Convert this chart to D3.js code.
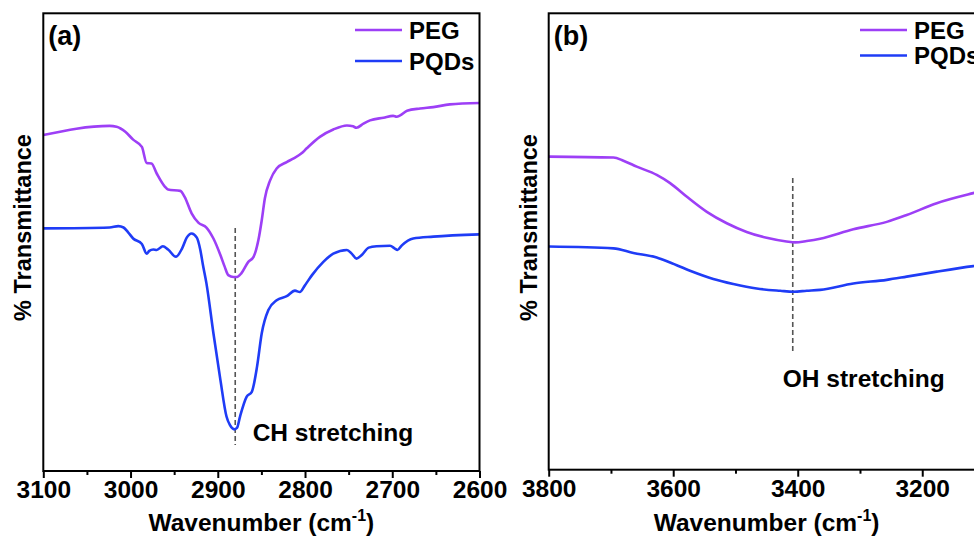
<!DOCTYPE html>
<html>
<head>
<meta charset="utf-8">
<script src="https://cdn.jsdelivr.net/npm/d3@7"></script>
<style>
  body { margin: 0; background: #fff; }
  text { font-family: "Liberation Sans", Arial, sans-serif; font-weight: bold; fill: #000; }
</style>
</head>
<body>
<div id="chart"></div>
<script>
// FTIR spectra, [wavenumber, transmittance (a.u.)]
// panel (a): CH stretching region
const pegCH = [
  [3100, 73.4], [3024, 75.4], [3016, 75.2], [3006, 74.1], [2997, 72.4], [2987, 70.8],
  [2981.5, 67.3], [2976, 67.2], [2970, 65.0], [2960.5, 62.1], [2957, 61.5], [2943, 61.2],
  [2938, 59.9], [2930, 56.3], [2922, 54.2], [2913, 53.2], [2905, 50.8], [2897, 47.2],
  [2892, 44.6], [2888, 42.8], [2882, 42.4], [2878, 42.4], [2873, 43.2], [2865, 45.7],
  [2859, 46.8], [2853.5, 50.4], [2849.6, 54.8], [2846, 59.6], [2840, 63.5], [2832.5, 66.1],
  [2821, 67.5], [2813, 68.3], [2804, 69.4], [2798, 70.5], [2783, 73.0], [2767.6, 74.6],
  [2752, 75.5], [2745, 75.3], [2741, 75.0], [2733, 75.9], [2725.5, 76.6], [2710, 77.2],
  [2699, 77.6], [2695, 77.4], [2691, 77.7], [2683, 78.7], [2668, 79.2], [2653, 79.5],
  [2634, 80.1], [2600, 80.4]
];
const pqdCH = [
  [3100, 53.0], [3024, 53.2], [3014, 53.5], [3008, 53.2], [3003, 52.2], [2997, 50.8],
  [2987, 49.6], [2981.5, 47.5], [2978.5, 48.1], [2974, 48.4], [2970, 48.3], [2963, 49.1],
  [2957, 48.4], [2948, 46.8], [2941, 48.6], [2935.6, 51.0], [2930, 51.9], [2924, 51.0],
  [2920, 48.3], [2917, 45.0], [2913, 41.0], [2905, 30.1], [2897, 19.9], [2890, 11.9],
  [2886, 10.0], [2881, 9.1], [2878, 9.4], [2874.5, 11.9], [2867, 16.2], [2861, 17.3],
  [2855, 22.8], [2849.6, 30.1], [2842, 35.2], [2832.5, 37.3], [2821, 38.2], [2811.5, 39.4],
  [2806, 39.1], [2800, 40.6], [2792, 42.8], [2779, 45.7], [2767.6, 47.5], [2752, 48.3],
  [2746.5, 47.5], [2741, 46.4], [2735, 47.2], [2727, 48.8], [2718, 49.1], [2702.6, 49.2],
  [2697, 48.6], [2694, 48.3], [2689, 49.3], [2676, 50.8], [2653, 51.2], [2600, 51.7]
];
// panel (b): OH stretching region
const pegOH = [
  [3800, 68.6], [3696, 68.4], [3680, 67.7], [3658.6, 66.4], [3626.5, 64.6], [3605, 62.8],
  [3578, 59.8], [3546, 56.5], [3514, 54.0], [3482, 52.1], [3450, 50.8], [3418, 50.0],
  [3404, 49.8], [3385.5, 50.1], [3364, 50.6], [3310.7, 52.7], [3257, 54.3], [3225, 55.8],
  [3176.7, 58.4], [3118, 60.6], [3100, 61.2]
];
const pqdOH = [
  [3800, 48.9], [3696, 48.5], [3664, 47.5], [3626.5, 46.5], [3605, 45.4], [3573, 43.6],
  [3535.6, 41.8], [3503.5, 40.7], [3466, 39.7], [3428, 39.2], [3407, 39.0], [3385.5, 39.2],
  [3364, 39.4], [3310.7, 40.8], [3257, 41.6], [3225, 42.3], [3176.7, 43.4], [3118, 44.6],
  [3100, 44.9]
];

const ticksCH = [3100, 3000, 2900, 2800, 2700, 2600];
const minorCH = [3050, 2950, 2850, 2750, 2650];
const ticksOH = [3800, 3600, 3400, 3200];
const minorOH = [3700, 3500, 3300];
const names = ["PEG", "PQDs"];
const colors = ["#9d3ff6", "#1f3cf6"];

const width = 974, height = 537;
const svg = d3.select("#chart").append("svg")
  .attr("width", width)
  .attr("height", height);

function drawPanel(p) {
  const x = d3.scaleLinear().domain(p.domain).range([p.left, p.right]);
  const y = d3.scaleLinear().domain([0, 100]).range([p.bottom, 13.3]);
  const g = svg.append("g");

  const line = d3.line()
    .x(d => x(d[0]))
    .y(d => y(d[1]))
    .curve(d3.curveMonotoneX);

  // dashed marker at the band position
  g.append("line")
    .attr("x1", x(p.band)).attr("x2", x(p.band))
    .attr("y1", y(p.bandTop)).attr("y2", y(p.bandBottom))
    .attr("stroke", "#555")
    .attr("stroke-width", 1.6)
    .attr("stroke-dasharray", "5,3");

  p.series.forEach((s, i) => {
    g.append("path")
      .datum(s)
      .attr("fill", "none")
      .attr("stroke", colors[i])
      .attr("stroke-width", 2.6)
      .attr("stroke-linejoin", "round")
      .attr("d", line);
  });

  // frame
  g.append("rect")
    .attr("x", p.left).attr("y", 13.3)
    .attr("width", p.right - p.left)
    .attr("height", p.bottom - 13.3)
    .attr("fill", "none")
    .attr("stroke", "#000")
    .attr("stroke-width", 2);

  // bottom axis, major and minor ticks
  const ax = g.append("g")
    .attr("transform", `translate(0,${p.bottom})`)
    .call(d3.axisBottom(x).tickValues(p.ticks).tickSize(7).tickPadding(3).tickFormat(d3.format("d")));
  ax.select(".domain").remove();
  ax.selectAll(".tick line").attr("stroke-width", 2);
  ax.selectAll("text")
    .style("font-family", '"Liberation Sans", Arial, sans-serif')
    .style("font-weight", "bold")
    .style("font-size", "24.5px")
    .attr("fill", "#000");

  const mx = g.append("g")
    .attr("transform", `translate(0,${p.bottom})`)
    .call(d3.axisBottom(x).tickValues(p.minor).tickSize(4).tickFormat(""));
  mx.select(".domain").remove();
  mx.selectAll(".tick line").attr("stroke-width", 2);

  // axis titles
  const xt = g.append("text")
    .attr("x", (p.left + p.right) / 2)
    .attr("y", 531)
    .attr("text-anchor", "middle")
    .style("font-size", "24.5px");
  xt.append("tspan").text("Wavenumber (cm");
  xt.append("tspan").attr("dy", -10).style("font-size", "16px").text("-1");
  xt.append("tspan").attr("dy", 10).text(")");

  g.append("text")
    .attr("transform", `translate(${p.left - 12},${227.5}) rotate(-90)`)
    .attr("text-anchor", "middle")
    .style("font-size", "23.5px")
    .text("% Transmittance");

  // panel tag
  g.append("text")
    .attr("x", p.left + 5)
    .attr("y", 45)
    .style("font-size", "27px")
    .text(p.tag);

  // legend
  names.forEach((n, i) => {
    const ly = p.legendY[i];
    g.append("line")
      .attr("x1", p.legendX).attr("x2", p.legendX + 47)
      .attr("y1", ly).attr("y2", ly)
      .attr("stroke", colors[i])
      .attr("stroke-width", 2.6);
    g.append("text")
      .attr("x", p.legendX + 54)
      .attr("y", ly + 8.5)
      .style("font-size", "24px")
      .text(n);
  });

  // band annotation
  g.append("text")
    .attr("x", x(p.note[0]))
    .attr("y", y(p.note[1]))
    .style("font-size", "24.5px")
    .text(p.noteText);
}

drawPanel({
  domain: [3100, 2600], left: 43.3, right: 479.5, bottom: 471,
  series: [pegCH, pqdCH], ticks: ticksCH, minor: minorCH,
  band: 2880, bandTop: 53.1, bandBottom: 5.7,
  note: [2860, 6.5], noteText: "CH stretching",
  tag: "(a)", legendX: 355, legendY: [30, 61]
});

drawPanel({
  domain: [3800, 3100], left: 548.7, right: 984.5, bottom: 469.7,
  series: [pegOH, pqdOH], ticks: ticksOH, minor: minorOH,
  band: 3408, bandTop: 63.9, bandBottom: 25.6,
  note: [3424, 18.2], noteText: "OH stretching",
  tag: "(b)", legendX: 860, legendY: [30, 55.5]
});
</script>
</body>
</html>
